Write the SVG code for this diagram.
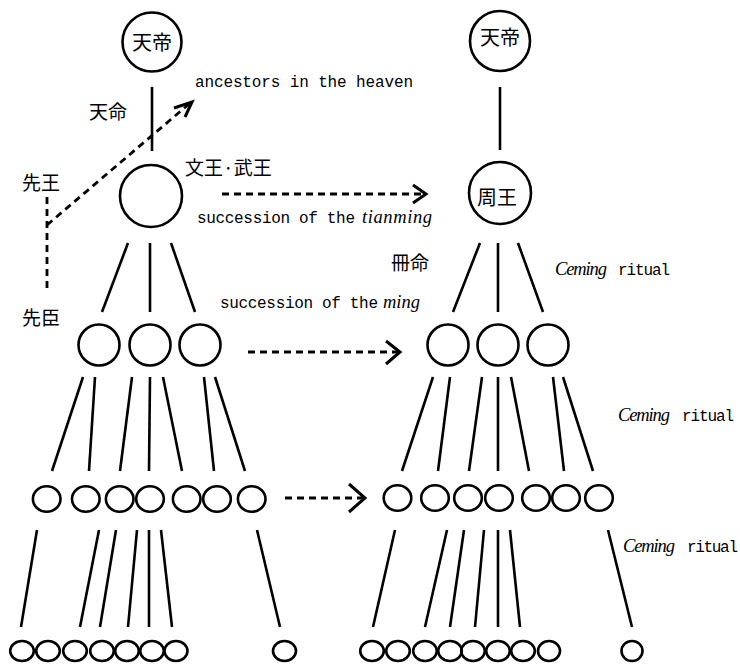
<svg xmlns="http://www.w3.org/2000/svg" width="740" height="666" viewBox="0 0 740 666">
<style>
.n{fill:none;stroke:#000;stroke-width:2.6}
.l{fill:none;stroke:#000;stroke-width:2.6;stroke-linecap:butt}
.d{fill:none;stroke:#000;stroke-width:2.8;stroke-dasharray:7 5}
.h{fill:none;stroke:#000;stroke-width:3;stroke-linejoin:miter}
.cjk{font-family:"Noto Sans CJK JP","Noto Sans CJK SC",sans-serif;font-size:19px;fill:#000}
.cn{font-family:"Noto Sans CJK JP","Noto Sans CJK SC",sans-serif;font-size:20px;fill:#000;text-anchor:middle}
.m{font-family:"Liberation Mono",monospace;font-size:16px;fill:#000}
.i{font-family:"Liberation Serif",serif;font-style:italic;font-size:18.5px;fill:#000}
</style>
<rect width="740" height="666" fill="#fff"/>
<g id="connectors">
<line class="l" x1="152" y1="87" x2="152" y2="151"/>
<line class="l" x1="500" y1="87" x2="500" y2="150"/>
<line class="l" x1="128" y1="243" x2="102" y2="312"/>
<line class="l" x1="150" y1="243" x2="150" y2="312"/>
<line class="l" x1="171" y1="243" x2="195" y2="312"/>
<line class="l" x1="480" y1="243" x2="453" y2="312"/>
<line class="l" x1="498" y1="243" x2="498" y2="312"/>
<line class="l" x1="518" y1="243" x2="543" y2="312"/>
<line class="l" x1="83" y1="377" x2="52" y2="471"/>
<line class="l" x1="95" y1="377" x2="89" y2="471"/>
<line class="l" x1="132" y1="377" x2="120" y2="471"/>
<line class="l" x1="150" y1="377" x2="149" y2="471"/>
<line class="l" x1="163" y1="377" x2="182" y2="471"/>
<line class="l" x1="204" y1="377" x2="214" y2="471"/>
<line class="l" x1="215" y1="377" x2="245" y2="471"/>
<line class="l" x1="433" y1="377" x2="402" y2="471"/>
<line class="l" x1="450" y1="377" x2="438" y2="471"/>
<line class="l" x1="482" y1="377" x2="469" y2="471"/>
<line class="l" x1="498" y1="377" x2="498" y2="471"/>
<line class="l" x1="511" y1="377" x2="529" y2="471"/>
<line class="l" x1="553" y1="377" x2="564" y2="471"/>
<line class="l" x1="563" y1="377" x2="593" y2="471"/>
<line class="l" x1="37" y1="530" x2="21" y2="627"/>
<line class="l" x1="99" y1="530" x2="80" y2="627"/>
<line class="l" x1="116" y1="530" x2="100" y2="627"/>
<line class="l" x1="137" y1="530" x2="128" y2="627"/>
<line class="l" x1="149" y1="530" x2="149" y2="627"/>
<line class="l" x1="161" y1="530" x2="172" y2="627"/>
<line class="l" x1="257" y1="530" x2="280" y2="627"/>
<line class="l" x1="395" y1="530" x2="373" y2="627"/>
<line class="l" x1="447" y1="530" x2="425" y2="627"/>
<line class="l" x1="464" y1="530" x2="450" y2="627"/>
<line class="l" x1="484" y1="530" x2="475" y2="627"/>
<line class="l" x1="498" y1="530" x2="498" y2="627"/>
<line class="l" x1="510" y1="530" x2="520" y2="627"/>
<line class="l" x1="608" y1="530" x2="632" y2="627"/>
<line class="d" x1="47" y1="197" x2="47" y2="293"/>
<line class="d" x1="47" y1="225" x2="189" y2="104"/>
<polyline class="h" points="174,108 192,102 185,117"/>
<line class="d" x1="222" y1="194" x2="424" y2="194"/>
<polyline class="h" points="413,185 426,194 413,203"/>
<line class="d" x1="248" y1="352" x2="398" y2="352"/>
<polyline class="h" points="386,341 400,352 386,364"/>
<line class="d" x1="285" y1="498" x2="363" y2="498"/>
<polyline class="h" points="349,484 365,498 349,512"/>
</g>
<g id="tiandi-left"><circle class="n" cx="152" cy="42" r="29.5"/><text class="cn" x="152" y="49.5">天帝</text></g>
<g id="tiandi-right"><circle class="n" cx="500" cy="41" r="30"/><text class="cn" x="500" y="45">天帝</text></g>
<g id="wenwang"><circle class="n" cx="151" cy="196" r="31"/></g>
<g id="zhouwang"><circle class="n" cx="500" cy="193" r="31"/><text class="cn" x="497" y="204.5">周王</text></g>
<g id="row2-left">
<circle class="n" cx="99" cy="345" r="20.5"/><circle class="n" cx="150" cy="345" r="20.5"/><circle class="n" cx="200" cy="345" r="20.5"/>
</g>
<g id="row2-right">
<circle class="n" cx="448" cy="345" r="20.5"/><circle class="n" cx="498" cy="345" r="20.5"/><circle class="n" cx="548" cy="345" r="20.5"/>
</g>
<g id="row3-left">
<ellipse class="n" cx="46.7" cy="499" rx="13.8" ry="12.8"/><ellipse class="n" cx="85.8" cy="499" rx="13.8" ry="12.8"/><ellipse class="n" cx="119.7" cy="499" rx="13.8" ry="12.8"/><ellipse class="n" cx="150" cy="499" rx="13.8" ry="12.8"/><ellipse class="n" cx="186.7" cy="499" rx="13.8" ry="12.8"/><ellipse class="n" cx="217" cy="499" rx="13.8" ry="12.8"/><ellipse class="n" cx="251.7" cy="499" rx="13.8" ry="12.8"/>
</g>
<g id="row3-right">
<ellipse class="n" cx="397.5" cy="498" rx="13.8" ry="12.8"/><ellipse class="n" cx="435" cy="498" rx="13.8" ry="12.8"/><ellipse class="n" cx="468" cy="498" rx="13.8" ry="12.8"/><ellipse class="n" cx="499" cy="498" rx="13.8" ry="12.8"/><ellipse class="n" cx="536" cy="498" rx="13.8" ry="12.8"/><ellipse class="n" cx="566" cy="498" rx="13.8" ry="12.8"/><ellipse class="n" cx="599" cy="498" rx="13.8" ry="12.8"/>
</g>
<g id="row4-left">
<ellipse class="n" cx="22" cy="651" rx="11.8" ry="10"/><ellipse class="n" cx="48" cy="651" rx="11.8" ry="10"/><ellipse class="n" cx="75" cy="651" rx="11.8" ry="10"/><ellipse class="n" cx="102" cy="651" rx="11.8" ry="10"/><ellipse class="n" cx="127" cy="651" rx="11.8" ry="10"/><ellipse class="n" cx="152" cy="651" rx="11.8" ry="10"/><ellipse class="n" cx="176" cy="651" rx="11.5" ry="10"/><ellipse class="n" cx="284.5" cy="651" rx="11.5" ry="10"/>
</g>
<g id="row4-right">
<ellipse class="n" cx="372" cy="651" rx="11.8" ry="10"/><ellipse class="n" cx="398" cy="651" rx="11.8" ry="10"/><ellipse class="n" cx="425" cy="651" rx="11.8" ry="10"/><ellipse class="n" cx="450" cy="651" rx="11.8" ry="10"/><ellipse class="n" cx="473" cy="651" rx="11.8" ry="10"/><ellipse class="n" cx="498" cy="651" rx="11.8" ry="10"/><ellipse class="n" cx="523" cy="651" rx="11.8" ry="10"/><ellipse class="n" cx="549" cy="651" rx="11" ry="10"/><ellipse class="n" cx="632" cy="651" rx="10.5" ry="10"/>
</g>
<g id="labels">
<text class="cjk" x="89" y="119">天命</text>
<text class="cjk" x="22" y="189.5">先王</text>
<text class="cjk" x="22" y="324.5">先臣</text>
<text class="cjk" x="185" y="174.5" font-size="19.5">文王·武王</text>
<text class="cjk" x="391" y="270">冊命</text>
<text class="m" x="195" y="87" textLength="218">ancestors in the heaven</text>
<text class="m" x="197" y="223" textLength="158">succession of the</text>
<text class="i" x="362" y="223" textLength="70">tianming</text>
<text class="m" x="220" y="308" textLength="158">succession of the</text>
<text class="i" x="383" y="308" textLength="37">ming</text>
<text class="i" x="555" y="275" textLength="52">Ceming</text>
<text class="m" x="618" y="275" textLength="52">ritual</text>
<text class="i" x="618" y="421" textLength="52">Ceming</text>
<text class="m" x="682" y="421" textLength="52">ritual</text>
<text class="i" x="623" y="552" textLength="52">Ceming</text>
<text class="m" x="687" y="552" textLength="51">ritual</text>
</g>
</svg>
